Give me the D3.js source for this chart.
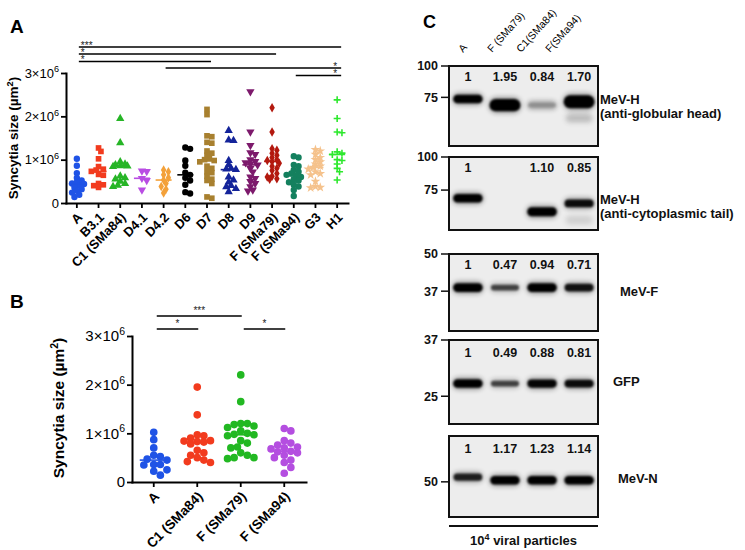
<!DOCTYPE html>
<html><head><meta charset="utf-8">
<script src="https://cdn.jsdelivr.net/npm/d3@7"></script>
<style>
html,body{margin:0;padding:0;background:#fff;}
svg{display:block;font-family:"Liberation Sans",Arial,Helvetica,sans-serif;}
</style></head><body>
<svg id="fig" width="745" height="550"></svg>
<script>
// ================= DATA =================
// Panel A: syncytia size, in units of 10^6 µm²
const groupsA = ["A","B3.1","C1 (SMa84)","D4.1","D4.2","D6","D7","D8","D9","F (SMa79)","F (SMa94)","G3","H1"];
const valsA_A    = [1.02,0.86,0.69,0.58,0.52,0.48,0.45,0.44,0.40,0.36,0.32,0.28,0.24,0.19,0.14];
const valsA_B31  = [1.27,1.19,1.02,0.84,0.78,0.76,0.73,0.66,0.64,0.45,0.42,0.40,0.36];
const valsA_C1   = [1.95,1.39,0.95,0.90,0.88,0.86,0.85,0.84,0.62,0.58,0.55,0.50,0.45,0.41,0.38];
const valsA_D41  = [0.74,0.73,0.57,0.52,0.30];
const valsA_D42  = [0.76,0.72,0.65,0.58,0.53,0.45,0.38,0.32,0.23];
const valsA_D6   = [1.28,1.25,0.98,0.86,0.70,0.65,0.58,0.52,0.42,0.25,0.22];
const valsA_D7   = [2.16,2.04,1.55,1.53,1.40,1.38,1.20,1.15,1.10,1.02,1.00,0.98,0.95,0.85,0.80,0.72,0.70,0.62,0.55,0.52,0.45,0.14,0.11];
const valsA_D8   = [1.67,1.45,1.44,0.98,0.88,0.80,0.78,0.77,0.60,0.53,0.48,0.40,0.37,0.33,0.26];
const valsA_D9   = [2.57,1.64,1.33,1.16,1.12,1.00,0.96,0.93,0.90,0.88,0.80,0.72,0.60,0.57,0.50,0.45,0.38,0.30,0.28];
const valsA_F79  = [2.20,1.64,1.25,1.22,1.15,1.10,1.05,1.00,0.98,0.96,0.92,0.85,0.80,0.75,0.68,0.62,0.60,0.56,0.55];
const valsA_F94  = [1.08,1.05,0.88,0.85,0.76,0.72,0.68,0.65,0.63,0.60,0.55,0.52,0.48,0.42,0.38,0.30,0.16];
const valsA_G3   = [1.23,1.20,1.12,1.05,1.00,0.95,0.90,0.85,0.82,0.78,0.72,0.68,0.65,0.50,0.38,0.36,0.35];
const valsA_H1   = [2.38,1.95,1.64,1.62,1.18,1.15,1.12,1.00,0.98,0.90,0.80,0.72,0.53];
const seriesA = [valsA_A,valsA_B31,valsA_C1,valsA_D41,valsA_D42,valsA_D6,valsA_D7,valsA_D8,valsA_D9,valsA_F79,valsA_F94,valsA_G3,valsA_H1];
const sigA_from  = ["A","A","A","D4.2","F (SMa94)"];
const sigA_to    = ["H1","F (SMa79)","D7","H1","H1"];
const sigA_label = ["***","*","*","*","*"];

// Panel B
const groupsB = ["A","C1 (SMa84)","F (SMa79)","F (SMa94)"];
const valsB_A   = [1.02,0.87,0.70,0.55,0.52,0.47,0.45,0.36,0.36,0.35,0.25,0.22,0.14];
const valsB_C1  = [1.95,1.38,0.97,0.95,0.90,0.85,0.84,0.83,0.82,0.78,0.65,0.60,0.55,0.50,0.45,0.42,0.40];
const valsB_F79 = [2.20,1.65,1.20,1.20,1.18,1.15,1.12,1.05,1.00,0.98,0.97,0.95,0.85,0.80,0.72,0.70,0.60,0.55,0.50,0.50,0.48];
const valsB_F94 = [1.10,1.05,0.85,0.80,0.76,0.72,0.70,0.68,0.63,0.62,0.60,0.55,0.50,0.45,0.40,0.30,0.18];
const seriesB = [valsB_A,valsB_C1,valsB_F79,valsB_F94];
const sigB_from  = ["A","A","F (SMa79)"];
const sigB_to    = ["F (SMa79)","C1 (SMa84)","F (SMa94)"];
const sigB_label = ["***","*","*"];

// Shared y ticks (x 10^6)
const yTickValues = [0,1e6,2e6,3e6];
const yTickMantissa = ["0","1","2","3"];
const yTickExponent = "6";

// Panel C: western blots
const lanes = ["A","F (SMa79)","C1(SMa84)","F(SMa94)"];
const blotTitle1 = ["MeV-H","MeV-H","MeV-F","GFP","MeV-N"];
const blotTitle2 = ["(anti-globular head)","(anti-cytoplasmic tail)","","",""];
const blotMarkers = [[100,75],[100,75],[50,37],[37,25],[50]];
const blotKdaRange = [[100,48],[100,53],[50,26.8],[37,20.6],[72,37.8]];
const blotQuant = [[1,1.95,0.84,1.70],[1,null,1.10,0.85],[1,0.47,0.94,0.71],[1,0.49,0.88,0.81],[1,1.17,1.23,1.14]];
const bandKda = [[73.8,69.8,69.8,72.0],[69.8,null,62.1,66.8],[38.1,38.1,38.1,38.1],[27.3,27.3,27.3,27.3],[51.9,50.6,50.6,50.6]];
const bandSignal = [[1.0,1.7,0.3,1.8],[1.0,0,1.1,0.9],[1.05,0.5,1.05,0.85],[1.0,0.5,0.95,0.9],[0.75,1.0,1.0,1.0]];
const faintBlot = [0,1];
const faintLane = ["F(SMa94)","F(SMa94)"];
const faintKda = [62,57.8];
const faintSignal = [0.25,0.15];
const particlesMantissa = "10", particlesExp = "4", particlesText = " viral particles";

// ================= STYLE / LAYOUT =================
const colorsA = ["#1f53e6","#f23b1e","#26b526","#b94de3","#f3a13a","#000000","#a8802f","#14249a","#7d1a6c","#b3190f","#14805e","#f5c28c","#2ee82e"];
const shapesA = ["circle","square","triangle","triangleDown","diamond","circle","square","triangle","triangleDown","diamond","circle","star","plus"];
const colorsB = ["#1f53e6","#f23b1e","#22b822","#b44ee0"];
const shapesB = ["circle","circle","circle","circle"];

const svg = d3.select("#fig");
const defs = svg.append("defs");
defs.append("filter").attr("id","blur").attr("x","-30%").attr("y","-80%").attr("width","160%").attr("height","260%")
  .append("feGaussianBlur").attr("stdDeviation",1.3);
defs.append("filter").attr("id","blur2").attr("x","-30%").attr("y","-100%").attr("width","160%").attr("height","300%")
  .append("feGaussianBlur").attr("stdDeviation",2.5);

function symPath(shape, s) {
  switch (shape) {
    case "circle": return d3.symbol(d3.symbolCircle, 32*s*s)();
    case "square": return d3.symbol(d3.symbolSquare, 32*s*s)();
    case "triangle":
    case "triangleDown": return d3.symbol(d3.symbolTriangle, 30*s*s)();
    case "diamond": return d3.symbol(d3.symbolDiamond, 26*s*s)();
    case "star": return d3.symbol(d3.symbolStar, 30*s*s)();
    case "plus": { const r = 3.5*s; return `M${-r},0H${r}M0,${-r}V${r}`; }
  }
}

// GraphPad-like scatter spreading: place points left/right of centre, limited width
function swarm(values, y, minD, step, maxOff) {
  const pts = values.map(v => ({v, y: y(v*1e6)})).sort((a,b) => a.y - b.y);
  const placed = [];
  for (const p of pts) {
    let best = 0, bestD = -1;
    for (let k = 0; k < 80; k++) {
      const off = k === 0 ? 0 : (k % 2 ? 1 : -1) * Math.ceil(k/2) * step;
      if (Math.abs(off) > maxOff) break;
      const d = placed.length ? d3.min(placed, q => Math.hypot(q.dx - off, q.y - p.y)) : Infinity;
      if (d >= minD) { best = off; bestD = d; break; }
      if (d > bestD) { bestD = d; best = off; }
    }
    p.dx = best;
    placed.push(p);
  }
  return pts;
}

function supText(sel, base, exp, fs) {
  sel.text(null);
  sel.append("tspan").text(base);
  if (exp !== null) sel.append("tspan").attr("dy", -fs*0.42).attr("font-size", fs*0.7).text(exp);
}

function drawDotPanel(o) {
  const g = svg.append("g");
  const x = d3.scaleBand().domain(o.groups).range(o.xRange);
  const y = d3.scaleLinear().domain([0,3e6]).range(o.yRange);
  const cx = gname => x(gname) + x.bandwidth()/2;

  // y axis
  const ya = g.append("g").attr("transform", `translate(${o.xRange[0]},0)`)
    .call(d3.axisLeft(y).tickValues(yTickValues).tickSize(5).tickSizeOuter(0).tickPadding(2));
  ya.attr("font-family", null).attr("font-size", null);
  ya.select(".domain").attr("stroke","#000").attr("stroke-width",2).attr("stroke-linecap","square");
  ya.selectAll(".tick line").attr("stroke","#000").attr("stroke-width",1.8);
  ya.selectAll(".tick text").attr("font-size", o.tickFs).attr("fill","#000")
    .each(function(d,i){ supText(d3.select(this), yTickMantissa[i] === "0" ? "0" : yTickMantissa[i] + "×10", yTickMantissa[i] === "0" ? null : yTickExponent, o.tickFs); });

  // x axis
  const xa = g.append("g").attr("transform", `translate(0,${o.yRange[0]})`)
    .call(d3.axisBottom(x).tickSize(5).tickSizeOuter(0));
  xa.attr("font-family", null).attr("font-size", null);
  xa.select(".domain").attr("stroke","#000").attr("stroke-width",2).attr("stroke-linecap","square");
  xa.selectAll(".tick line").attr("stroke","#000").attr("stroke-width",1.8);
  xa.selectAll(".tick text").attr("font-size", o.xFs).attr("font-weight","bold").attr("fill","#000")
    .attr("text-anchor","end").attr("y", null).attr("dy", "0.35em")
    .attr("transform", `translate(${o.xLabDx},${o.xLabDy}) rotate(-45)`);

  // y label
  const yl = g.append("text").attr("transform", `translate(${o.yLabX},${o.yLabY}) rotate(-90)`)
    .attr("text-anchor","middle").attr("font-weight","bold").attr("font-size", o.yLabFs);
  yl.append("tspan").text("Syncytia size (µm");
  yl.append("tspan").attr("dy", -o.yLabFs*0.4).attr("font-size", o.yLabFs*0.68).text("2");
  yl.append("tspan").attr("dy", o.yLabFs*0.4).text(")");

  // points
  o.groups.forEach((gn, i) => {
    const pts = swarm(o.series[i], y, o.minD, o.step, o.maxOff);
    const shape = o.shapes[i], col = o.colors[i];
    const c = cx(gn);
    g.append("g").selectAll("path").data(pts).join("path")
      .attr("transform", d => `translate(${c + d.dx},${d.y})` + (shape === "triangleDown" ? " rotate(180)" : ""))
      .attr("d", symPath(shape, o.symScale))
      .attr("fill", shape === "plus" ? "none" : col)
      .attr("stroke", shape === "plus" ? col : "none")
      .attr("stroke-width", shape === "plus" ? 1.6 : 0);
    const med = d3.median(o.series[i]) * 1e6;
    g.append("line").attr("x1", c - o.medHW).attr("x2", c + o.medHW)
      .attr("y1", y(med)).attr("y2", y(med)).attr("stroke", col).attr("stroke-width", 1.6);
  });

  // significance: lines, and all star labels as tspans of a single text block
  const sigText = g.append("text").attr("font-size", o.sigFs).attr("fill","#222");
  o.sigFrom.forEach((f, i) => {
    const x1 = cx(f) + o.sigPad[0], x2 = cx(o.sigTo[i]) + o.sigPad[1];
    const ly = o.sigRowY[i];
    g.append("line").attr("x1", x1).attr("x2", x2).attr("y1", ly).attr("y2", ly)
      .attr("stroke", "#000").attr("stroke-width", 1.5);
    const pos = o.sigPos[i];
    const tx = pos === "left" ? x1 + 2 : pos === "right" ? x2 - 8 : (x1 + x2)/2;
    sigText.append("tspan").attr("x", tx).attr("y", ly + o.sigTextDy)
      .attr("text-anchor", pos === "mid" ? "middle" : "start").text(o.sigLabels[i]);
  });

  // panel letter
  svg.append("text").attr("x", o.letter[1]).attr("y", o.letter[2]).attr("font-weight","bold")
    .attr("font-size", 19).text(o.letter[0]);
}

drawDotPanel({
  groups: groupsA, series: seriesA, colors: colorsA, shapes: shapesA,
  xRange: [66,348], yRange: [203,73], tickFs: 13, xFs: 13, xLabDx: 3, xLabDy: 12,
  yLabX: 18, yLabY: 138, yLabFs: 13.5, minD: 4.2, step: 2.4, maxOff: 7.5, symScale: 1, medHW: 8,
  sigFrom: sigA_from, sigTo: sigA_to, sigLabels: sigA_label,
  sigPad: [2, 4], sigRowY: [47, 54, 61.5, 68, 75.5], sigPos: ["left","left","left","right","right"],
  sigTextDy: 1.5, sigFs: 10, letter: ["A", 10, 33]
});

drawDotPanel({
  groups: groupsB, series: seriesB, colors: colorsB, shapes: shapesB,
  xRange: [132,306], yRange: [482,336], tickFs: 15, xFs: 13.5, xLabDx: 3, xLabDy: 12,
  yLabX: 64, yLabY: 408, yLabFs: 15.5, minD: 6.6, step: 3.3, maxOff: 14, symScale: 1.2, medHW: 14,
  sigFrom: sigB_from, sigTo: sigB_to, sigLabels: sigB_label,
  sigPad: [3, 1], sigRowY: [316, 329, 329], sigPos: ["mid","mid","mid"],
  sigTextDy: -2, sigFs: 10, letter: ["B", 10, 308]
});

// ================= PANEL C =================
const boxX0 = 449, boxX1 = 598;
const blotBoxes = [[66,146],[157,230],[254,331],[340,424],[436,517]];
const titleX = [600,600,620,613,618];
const titleY = [104,204,296,386,483];
const laneX = d3.scaleBand().domain(lanes).range([boxX0, boxX1]).paddingInner(0.14).paddingOuter(0.08);
const laneC = l => laneX(l) + laneX.bandwidth()/2;
const fmtQ = v => v === 1 ? "1" : d3.format(".2f")(v);

svg.append("text").attr("x", 423).attr("y", 28).attr("font-weight","bold").attr("font-size", 18).text("C");

const laneLab = d3.scalePoint().domain(lanes).range([463, 550]);
svg.append("g").selectAll("text").data(lanes).join("text")
  .attr("transform", d => `translate(${laneLab(d)},53) rotate(-48)`)
  .attr("font-size", 10.5).attr("fill","#000").text(d => d);

blotBoxes.forEach(([top, bot], b) => {
  const g = svg.append("g");
  const yk = d3.scaleLog().domain(blotKdaRange[b]).range([top, bot]);
  g.append("rect").attr("x", boxX0).attr("y", top).attr("width", boxX1 - boxX0).attr("height", bot - top)
    .attr("fill", "#ededed");
  // faint smears
  faintBlot.forEach((fb, j) => {
    if (fb !== b) return;
    const c = laneC(faintLane[j]);
    const w = laneX.bandwidth()*0.85, h = 9;
    g.append("rect").attr("x", c - w/2).attr("y", yk(faintKda[j]) - h/2).attr("width", w).attr("height", h)
      .attr("rx", h/2).attr("fill", "#333").attr("opacity", faintSignal[j]).attr("filter","url(#blur2)");
  });
  // bands
  lanes.forEach((ln, i) => {
    const k = bandKda[b][i], s = bandSignal[b][i];
    if (k == null || !s) return;
    const c = laneC(ln);
    const h = 3 + 5.5*s;
    const w = laneX.bandwidth() * (0.84 + 0.08*Math.min(s, 1.6));
    const op = Math.min(1, 0.3 + 0.7*s);
    g.append("rect").attr("x", c - w/2 - 1).attr("y", yk(k) - h/2 - 2).attr("width", w + 2).attr("height", h + 4)
      .attr("rx", (h+4)/2).attr("fill", "#000").attr("opacity", op*(s < 0.5 ? 0.6 : 0.35)).attr("filter","url(#blur2)");
    g.append("rect").attr("x", c - w/2).attr("y", yk(k) - h/2).attr("width", w).attr("height", h)
      .attr("rx", h/2).attr("fill", s < 0.5 ? "#777" : "#050505").attr("opacity", op).attr("filter","url(#blur)");
  });
  // border
  g.append("rect").attr("x", boxX0).attr("y", top).attr("width", boxX1 - boxX0).attr("height", bot - top)
    .attr("fill", "none").attr("stroke", "#111").attr("stroke-width", 2);
  // markers
  blotMarkers[b].forEach(m => {
    const my = yk(m);
    g.append("line").attr("x1", boxX0 - 8).attr("x2", boxX0).attr("y1", my).attr("y2", my)
      .attr("stroke", "#111").attr("stroke-width", 1.5);
    g.append("text").attr("x", boxX0 - 11).attr("y", my).attr("dy", "0.35em").attr("text-anchor", "end")
      .attr("font-weight", "bold").attr("font-size", 12.5).attr("fill","#111").text(m);
  });
  // quantification
  const qy = top + (b < 3 ? 15 : 17);
  lanes.forEach((ln, i) => {
    const v = blotQuant[b][i];
    if (v == null) return;
    g.append("text").attr("x", laneC(ln)).attr("y", qy).attr("text-anchor", "middle")
      .attr("font-weight", "bold").attr("font-size", 12.5).attr("fill","#111").text(fmtQ(v));
  });
  // titles (one text block, second line as tspan)
  const tt = g.append("text").attr("x", titleX[b]).attr("y", titleY[b]).attr("font-weight","bold")
    .attr("font-size", 13).attr("fill","#111");
  tt.append("tspan").attr("x", titleX[b]).text(blotTitle1[b]);
  if (blotTitle2[b]) tt.append("tspan").attr("x", titleX[b]).attr("dy", 13.5).text(blotTitle2[b]);
});

svg.append("line").attr("x1", boxX0).attr("x2", boxX1).attr("y1", 526).attr("y2", 526)
  .attr("stroke", "#111").attr("stroke-width", 2);
const pt = svg.append("text").attr("x", (boxX0 + boxX1)/2).attr("y", 545).attr("text-anchor", "middle")
  .attr("font-weight", "bold").attr("font-size", 13).attr("fill","#111");
pt.append("tspan").text(particlesMantissa);
pt.append("tspan").attr("dy", -5).attr("font-size", 9).text(particlesExp);
pt.append("tspan").attr("dy", 5).text(particlesText);
</script>
</body></html>
